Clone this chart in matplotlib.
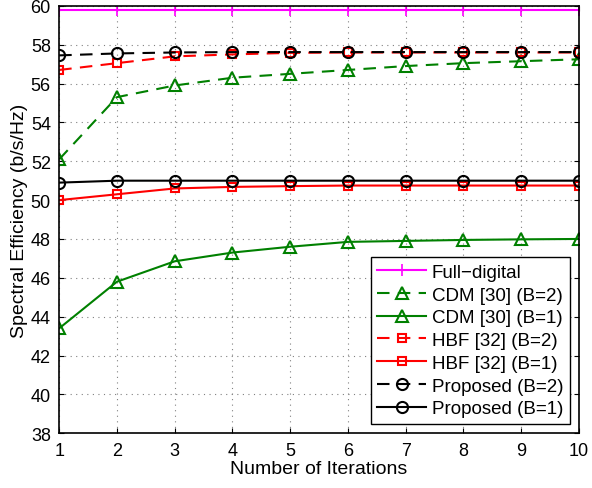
import matplotlib
matplotlib.use("Agg")
import matplotlib.pyplot as plt

plt.rcParams['font.family'] = ['Liberation Sans', 'DejaVu Sans']

iters = [1, 2, 3, 4, 5, 6, 7, 8, 9, 10]
full_digital = [59.8] * 10
cdm_b2 = [52.1, 55.3, 55.9, 56.3, 56.5, 56.7, 56.9, 57.05, 57.15, 57.25]
cdm_b1 = [43.4, 45.8, 46.85, 47.3, 47.6, 47.85, 47.9, 47.95, 47.98, 48.0]
hbf_b2 = [56.7, 57.05, 57.4, 57.5, 57.58, 57.6, 57.6, 57.6, 57.6, 57.6]
hbf_b1 = [50.0, 50.3, 50.6, 50.68, 50.72, 50.75, 50.75, 50.75, 50.75, 50.75]
prop_b2 = [57.45, 57.55, 57.6, 57.62, 57.62, 57.62, 57.62, 57.62, 57.62, 57.62]
prop_b1 = [50.9, 51.0, 51.0, 51.0, 51.0, 51.0, 51.0, 51.0, 51.0, 51.0]

fig = plt.figure(figsize=(5.92, 4.89), dpi=100)
ax = fig.add_axes([0.1, 0.112, 0.878, 0.874])

dash = (0, (6, 4))
ax.plot(iters, full_digital, color='magenta', marker='+', ms=9, mew=1.2, lw=1.5, label='Full\u2212digital')
ax.plot(iters, cdm_b2, color='green', ls=dash, marker='^', ms=9, mfc='none', mew=1.5, lw=1.5, label='CDM [30] (B=2)')
ax.plot(iters, cdm_b1, color='green', marker='^', ms=9, mfc='none', mew=1.5, lw=1.5, label='CDM [30] (B=1)')
ax.plot(iters, hbf_b2, color='red', ls=dash, marker='s', ms=6, mfc='none', mew=1.5, lw=1.5, label='HBF [32] (B=2)')
ax.plot(iters, hbf_b1, color='red', marker='s', ms=6, mfc='none', mew=1.5, lw=1.5, label='HBF [32] (B=1)')
ax.plot(iters, prop_b2, color='black', ls=dash, marker='o', ms=8, mfc='none', mew=1.5, lw=1.5, label='Proposed (B=2)')
ax.plot(iters, prop_b1, color='black', marker='o', ms=8, mfc='none', mew=1.5, lw=1.5, label='Proposed (B=1)')

ax.set_xlim(1, 10)
ax.set_ylim(38, 60)
ax.set_xticks(iters)
ax.set_yticks(range(38, 61, 2))
ax.tick_params(direction='in', labelsize=13, top=True, right=True, pad=6)
ax.grid(True, ls=(0, (1, 4)), color='gray', lw=0.8)
for s in ax.spines.values():
    s.set_linewidth(1.2)

ax.set_xlabel('Number of Iterations', fontsize=14, labelpad=1)
ax.set_ylabel('Spectral Efficiency (b/s/Hz)', fontsize=14, labelpad=2)

leg = ax.legend(loc='lower right', fontsize=13.5, fancybox=False, edgecolor='black',
                framealpha=1, handlelength=2.6, labelspacing=0.3, borderaxespad=0.5,
                handletextpad=0.3, borderpad=0.35)
leg.get_frame().set_linewidth(1.0)

fig.savefig('out.png', dpi=100)
